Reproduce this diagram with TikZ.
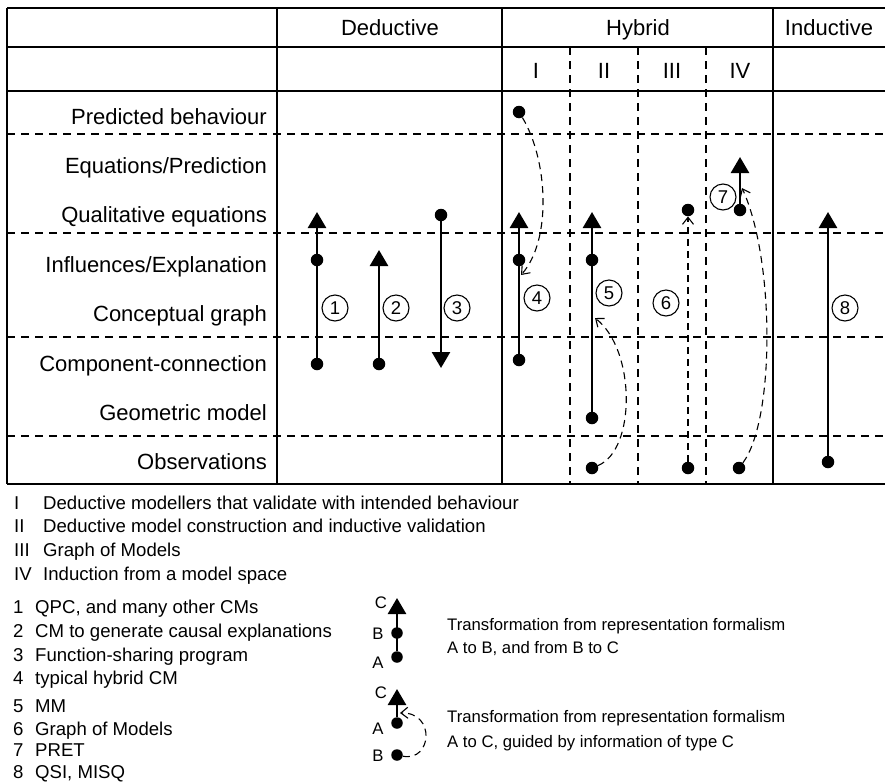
\documentclass[tikz,border=0pt]{standalone}
\usepackage{fontspec}
\setmainfont{Liberation Sans}
\usetikzlibrary{arrows.meta}
\newcommand\tabfont{\fontsize{22}{26}\selectfont}
\newcommand\legfont{\fontsize{18.6}{22}\selectfont}
\newcommand\notefont{\fontsize{16.7}{20}\selectfont}
\newcommand\tagfont{\fontsize{18.5}{18.5}\selectfont}
\tikzset{
  frame/.style={line width=1.4pt},
  grid/.style={line width=1.2pt,dash pattern=on 8pt off 6pt},
  rowlabel/.style={anchor=base east,font=\tabfont,inner sep=0pt},
  head/.style={anchor=base,font=\tabfont,inner sep=0pt},
  legend/.style={anchor=base west,font=\legfont,inner sep=0pt},
  note/.style={anchor=base west,font=\notefont,inner sep=0pt},
  abc/.style={font=\notefont,inner sep=0pt},
  dot/.style={circle,fill,inner sep=0pt,minimum size=12.5pt},
  flow/.style={line width=2.6pt,-{Triangle[width=18pt,length=16pt]}},
  guide/.style={line width=1.1pt,dash pattern=on 7pt off 5pt,-{Straight Barb[length=7pt,width=11pt,line width=1.1pt]}},
  tag/.style={circle,draw,line width=1.1pt,minimum size=26pt,inner sep=0pt,font=\tagfont}
}
\begin{document}
\begin{tikzpicture}[x=1pt,y=-1pt]
\useasboundingbox (0,0) rectangle (885,782);
\foreach \y in {8,47,91,484}
  \draw[frame] (7,\y) -- (885,\y);
\foreach \y in {134,233,337,436}
  \draw[grid] (7,\y) -- (885,\y);
\foreach \x in {7,277,502,773}
  \draw[frame] (\x,8) -- (\x,484);
\foreach \x in {570,638,706}
  \draw[grid] (\x,47) -- (\x,484);

\node[head] (H-ded) at (390,35) {Deductive};
\node[head] (H-hyb) at (638,35) {Hybrid};
\node[head] (H-ind) at (829,35) {Inductive};
\foreach \r [count=\i] in {I,II,III,IV}
  \node[head] (S-\i) at ({468+68*\i},78) {\r};

\foreach \t [count=\i from 0] in {Predicted behaviour,Equations/Prediction,Qualitative equations,Influences/Explanation,Conceptual graph,Component-connection,Geometric model,Observations}
  \node[rowlabel] (R-\i) at (267,{124+49.4*\i}) {\t};

\node[dot] (c1) at (317,364) {};
\node[dot] (b1) at (317,260) {};
\coordinate (t1) at (317,212);
\draw[flow] (c1) -- (t1);
\node[dot] (c2) at (379,364) {};
\coordinate (t2) at (379,250);
\draw[flow] (c2) -- (t2);
\node[dot] (q3) at (441,215) {};
\coordinate (t3) at (441,368);
\draw[flow] (q3) -- (t3);

\node[dot] (c4) at (519,360) {};
\node[dot] (b4) at (519,260) {};
\node[dot] (p4) at (519,112) {};
\coordinate (t4) at (519,212);
\coordinate (e4) at (521,275);
\draw[flow] (c4) -- (t4);
\draw[guide] (p4) .. controls (548,160) and (552,240) .. (e4);

\node[dot] (g5) at (592,418) {};
\node[dot] (b5) at (592,260) {};
\node[dot] (o5) at (592,468) {};
\coordinate (t5) at (592,212);
\coordinate (e5) at (595,318);
\draw[flow] (g5) -- (t5);
\draw[guide] (o5) .. controls (636,450) and (636,350) .. (e5);

\node[dot] (o6) at (688,468) {};
\node[dot] (q6) at (688,210) {};
\draw[guide] (o6) -- (q6);

\node[dot] (q7) at (740,210) {};
\node[dot] (o7) at (739,468) {};
\coordinate (t7) at (740,157);
\coordinate (e7) at (742,188);
\draw[flow] (q7) -- (t7);
\draw[guide] (o7) .. controls (775,420) and (775,260) .. (e7);

\node[dot] (o8) at (828,462) {};
\coordinate (t8) at (828,212);
\draw[flow] (o8) -- (t8);

\foreach \n/\x/\y in {1/335/308,2/396/308,3/457/308,4/537/298,5/609/293,6/666/303,7/723/197,8/845/308}
  \node[tag] (n\n) at (\x,\y) {\n};

\foreach \r/\t [count=\i from 0] in {I/Deductive modellers that validate with intended behaviour,II/Deductive model construction and inductive validation,III/Graph of Models,IV/Induction from a model space}{
  \node[legend] (K-\i) at (14,{509+23.7*\i}) {\r};
  \node[legend] (L-\i) at (43,{509+23.7*\i}) {\t};
}
\foreach \n/\y/\t in {1/613/{QPC, and many other CMs},2/637/{CM to generate causal explanations},3/661/{Function-sharing program},4/684/{typical hybrid CM},5/712/{MM},6/735/{Graph of Models},7/756/{PRET},8/778/{QSI, MISQ}}{
  \node[legend] (M-\n) at (13,\y) {\n};
  \node[legend] (P-\n) at (35,\y) {\t};
}

\node[dot,minimum size=11.5pt] (A1) at (397,657) {};
\node[dot,minimum size=11.5pt] (B1) at (397,633) {};
\coordinate (C1) at (397,598);
\draw[flow] (A1) -- (C1);
\node[abc] (lC1) at (381,603) {C};
\node[abc] (lB1) at (378,634) {B};
\node[abc] (lA1) at (378,663) {A};

\node[dot,minimum size=11.5pt] (A2) at (397,723) {};
\node[dot,minimum size=11.5pt] (B2) at (397,755) {};
\coordinate (C2) at (397,689);
\coordinate (e9) at (400,713);
\draw[flow] (A2) -- (C2);
\draw[guide] (B2) .. controls (432,762) and (436,712) .. (e9);
\node[abc] (lC2) at (381,693) {C};
\node[abc] (lA2) at (378,729) {A};
\node[abc] (lB2) at (378,756) {B};

\node[note] (T1a) at (447,630) {Transformation from representation formalism};
\node[note] (T1b) at (447,653) {A to B, and from B to C};
\node[note] (T2a) at (447,722) {Transformation from representation formalism};
\node[note] (T2b) at (447,747) {A to C, guided by information of type C};
\end{tikzpicture}
\end{document}
